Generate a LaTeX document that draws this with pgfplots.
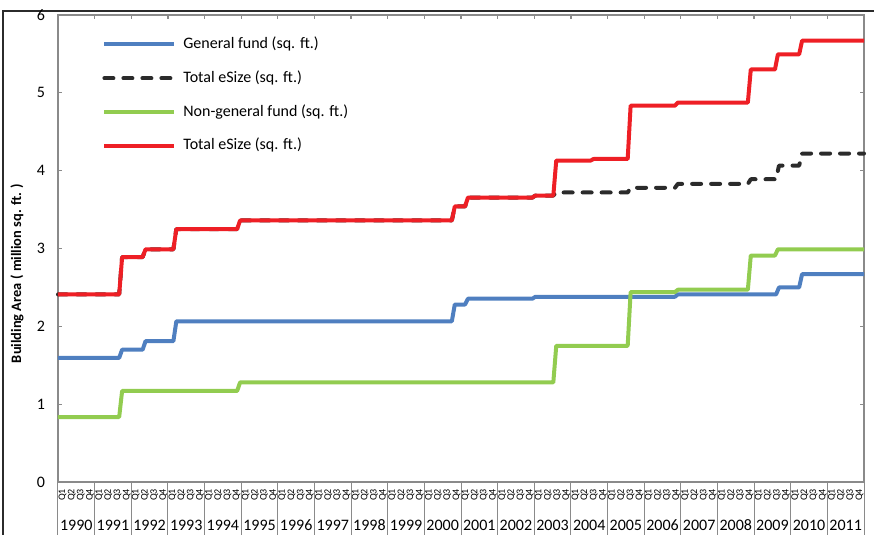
\documentclass[border=0pt]{standalone}
\usepackage{fontspec}
\setmainfont{Carlito}
\usepackage{pgfplots}
\pgfplotsset{compat=1.18}

\definecolor{genblue}{HTML}{4F7FC0}
\definecolor{nongreen}{HTML}{92CC50}
\definecolor{totred}{HTML}{EE1F25}
\definecolor{totdark}{HTML}{2B2B2B}
\definecolor{axisgray}{HTML}{8A8A8A}

% x is measured in years since the start of 1990
\begin{document}
\begin{tikzpicture}
\useasboundingbox (0,0) rectangle (437pt,267.5pt);
% outer chart frame (left and top edges)
\draw[totdark, line width=1pt] (1.5pt,0) -- (1.5pt,262pt) -- (437pt,262pt);
\begin{axis}[
  at={(29pt,26.5pt)}, anchor=south west,
  scale only axis, width=403pt, height=233.5pt,
  xmin=0, xmax=22, ymin=0, ymax=6,
  clip=false,
  axis line style={axisgray, line width=1pt},
  tick style={axisgray, line width=0.6pt},
  tick align=inside, major tick length=2pt,
  xtick={1,...,21}, xticklabels={}, xtick pos=right,
  ytick={0,...,6}, ytick pos=both,
  yticklabel style={font=\fontsize{8}{9}\selectfont, xshift=-3pt},
  /pgf/number format/assume math mode=true,
  ylabel={Building Area ( million sq. ft. )},
  ylabel style={font=\bfseries\fontsize{7.2}{8}\selectfont,
    at={(axis description cs:-0.0509,0.4465)}, anchor=center},
  legend style={draw=none, fill=none, at={(axis description cs:0.0546,0.955)},
    anchor=north west, font=\fontsize{8}{9}\selectfont,
    row sep=8.9pt, inner sep=0pt,
    nodes={inner sep=0pt, text height=6pt, text depth=2pt},
    /tikz/every odd column/.append style={column sep=3.5pt}},
  legend cell align=left,
  legend image code/.code={\draw[#1] (0pt,0pt) -- (35pt,0pt);},
  every axis plot/.append style={line width=2pt, line join=round},
]
% General fund
\addplot[genblue] coordinates {
 (0,1.595) (1.67,1.595) (1.75,1.70) (2.31,1.70) (2.39,1.81)
 (3.15,1.81) (3.23,2.065) (10.75,2.065) (10.83,2.28) (11.11,2.28)
 (11.19,2.355) (12.95,2.355) (13.03,2.38) (16.84,2.38) (16.92,2.41)
 (19.60,2.41) (19.68,2.50) (20.23,2.50) (20.31,2.67) (22,2.67)
};
\addlegendentry{General fund (sq. ft.)}
% Total eSize, dashed series
\addplot[totdark, line cap=round, dash pattern=on 4.5pt off 5pt] coordinates {
 (0,2.41) (1.67,2.41) (1.75,2.89) (2.31,2.89) (2.39,2.99)
 (3.15,2.99) (3.23,3.25) (4.89,3.25) (4.97,3.36) (10.75,3.36)
 (10.83,3.54) (11.11,3.54) (11.19,3.655) (12.95,3.655) (13.03,3.68)
 (13.52,3.68) (13.60,3.72) (15.55,3.72) (15.63,3.78) (16.84,3.78)
 (16.92,3.83) (18.83,3.83) (18.91,3.89) (19.60,3.89) (19.68,4.065)
 (20.23,4.065) (20.31,4.22) (22,4.22)
};
\addlegendentry{Total eSize (sq. ft.)}
% Non-general fund
\addplot[nongreen] coordinates {
 (0,0.835) (1.67,0.835) (1.75,1.17) (4.89,1.17) (4.97,1.28)
 (13.52,1.28) (13.60,1.75) (15.55,1.75) (15.63,2.44) (16.84,2.44)
 (16.92,2.47) (18.83,2.47) (18.91,2.91) (19.57,2.91) (19.65,2.99)
 (22,2.99)
};
\addlegendentry{Non-general fund (sq. ft.)}
% Total eSize
\addplot[totred] coordinates {
 (0,2.41) (1.67,2.41) (1.75,2.89) (2.31,2.89) (2.39,2.99)
 (3.15,2.99) (3.23,3.25) (4.89,3.25) (4.97,3.36) (10.75,3.36)
 (10.83,3.54) (11.11,3.54) (11.19,3.655) (12.95,3.655) (13.03,3.68)
 (13.52,3.68) (13.60,4.13) (14.54,4.13) (14.62,4.15) (15.55,4.15)
 (15.63,4.835) (16.84,4.835) (16.92,4.875) (18.83,4.875) (18.91,5.30)
 (19.57,5.30) (19.65,5.495) (20.23,5.495) (20.31,5.67) (22,5.67)
};
\addlegendentry{Total eSize (sq. ft.)}
% category axis: year separators, quarter and year labels
\pgfplotsinvokeforeach{0,...,22}{
  \draw[axisgray, line width=0.5pt] (axis cs:#1,0) -- ++(0pt,-26.5pt);
}
\pgfplotsinvokeforeach{0,...,21}{
  \node[font=\fontsize{8}{9}\selectfont, anchor=center, yshift=-21.5pt] at (axis cs:#1.5,0) {\pgfmathparse{int(1990+#1)}\pgfmathresult};
  \node[font=\fontsize{5}{5}\selectfont, inner sep=0pt, yshift=-6.5pt, rotate=90] at (axis cs:#1.125,0) {Q1};
  \node[font=\fontsize{5}{5}\selectfont, inner sep=0pt, yshift=-6.5pt, rotate=90] at (axis cs:#1.375,0) {Q2};
  \node[font=\fontsize{5}{5}\selectfont, inner sep=0pt, yshift=-6.5pt, rotate=90] at (axis cs:#1.625,0) {Q3};
  \node[font=\fontsize{5}{5}\selectfont, inner sep=0pt, yshift=-6.5pt, rotate=90] at (axis cs:#1.875,0) {Q4};
}
\end{axis}
\end{tikzpicture}
\end{document}
